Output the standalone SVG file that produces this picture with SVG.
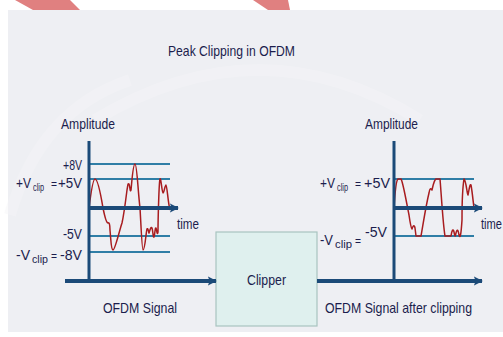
<svg xmlns="http://www.w3.org/2000/svg" width="503" height="337" viewBox="0 0 503 337">
<defs>
<style>
text{font-family:"Liberation Sans",Arial,sans-serif;fill:#1b1d4d;font-size:15px}
.sm{font-size:13px}
.sub{font-size:10px}
.axis{stroke:#1b4a78;stroke-width:3;fill:none}
.flow{stroke:#1b4a78;stroke-width:4;fill:none}
.lvl{stroke:#2f7ea6;stroke-width:2;fill:none}
.wave{stroke:#a81c1f;stroke-width:1.5;fill:none;stroke-linejoin:round}
</style>
<marker id="ah" viewBox="0 0 10 10" refX="9" refY="5" markerUnits="userSpaceOnUse" markerWidth="9" markerHeight="11" orient="auto">
<path d="M0,0 L10,5 L0,10 L2,5 z" fill="#1b4a78"/>
</marker>
</defs>
<rect x="0" y="0" width="503" height="337" fill="#ffffff"/>
<rect x="8" y="10" width="495" height="322" fill="#eeeff3"/>
<g id="swoosh" fill="none" stroke="#f5f5f8" stroke-width="12" opacity="0.45">
<path d="M95,120 Q260,20 420,120"/>
<path d="M10,215 Q40,110 130,80"/>
</g>
<polygon points="15,0 70,0 80,10 33,10" fill="#e08080"/>
<polygon points="253,0 288,0 290,10 268,10" fill="#e08080"/>
<text id="title" x="168" y="56" textLength="127" lengthAdjust="spacingAndGlyphs">Peak Clipping in OFDM</text>

<g id="input-chart">
<text x="61" y="129" font-size="14" textLength="54" lengthAdjust="spacingAndGlyphs">Amplitude</text>
<line class="lvl" x1="89" y1="164" x2="170" y2="164"/>
<line class="lvl" x1="89" y1="179" x2="170" y2="179"/>
<line class="lvl" x1="89" y1="236" x2="170" y2="236"/>
<line class="lvl" x1="89" y1="252" x2="170" y2="252"/>
<path class="wave" d="M89,208 C91,192 93,179 95,179 C98,179 101,196 103,208 C105,218 107,223 108,223 C109,222 110,224 110,230 C111,240 111,250 113,250 C115,250 119,232 122,223 C124,214 126,198 127,190 C128,184 128,183 129,184 C130,186 130,193 131,190 C132,180 133,164 135,164 C137,164 138,192 140,208 C141,225 142,250 143,250 C145,250 146,232 147,229 C148,227 149,234 149,233 C150,230 151,226 152,228 C153,231 153,238 154,237 C155,234 155,227 156,228 C157,231 157,236 158,232 C158,220 159,182 160,179 C161,177 162,193 163,193 C164,193 165,185 166,185 C167,185 168,203 170,210"/>
<line class="axis" x1="89" y1="141" x2="89" y2="281"/>
<line class="flow" x1="89" y1="208" x2="178" y2="208" marker-end="url(#ah)"/>
<text x="177" y="229" font-size="14" textLength="22" lengthAdjust="spacingAndGlyphs">time</text>
<text x="63" y="170" textLength="19" lengthAdjust="spacingAndGlyphs">+8V</text>
<text x="16" y="188" textLength="15" lengthAdjust="spacingAndGlyphs">+V</text>
<text x="33" y="191" class="sub" textLength="11" lengthAdjust="spacingAndGlyphs">clip</text>
<text x="51" y="188" class="sm" textLength="6" lengthAdjust="spacingAndGlyphs">=</text>
<text x="58" y="188" textLength="24" lengthAdjust="spacingAndGlyphs">+5V</text>
<text x="63" y="239" textLength="19" lengthAdjust="spacingAndGlyphs">-5V</text>
<text x="16" y="260" textLength="14" lengthAdjust="spacingAndGlyphs">-V</text>
<text x="32" y="263" class="sub" textLength="16" lengthAdjust="spacingAndGlyphs">clip</text>
<text x="51" y="260" class="sm" textLength="6" lengthAdjust="spacingAndGlyphs">=</text>
<text x="60" y="260" textLength="22" lengthAdjust="spacingAndGlyphs">-8V</text>
</g>

<g id="clipper">
<rect x="216" y="232" width="101" height="94" fill="#dff0ee" stroke="#a9c4c0" stroke-width="1.2"/>
<text x="247" y="285" textLength="39" lengthAdjust="spacingAndGlyphs">Clipper</text>
</g>

<g id="output-chart">
<text x="365" y="129" font-size="14" textLength="53" lengthAdjust="spacingAndGlyphs">Amplitude</text>
<line class="lvl" x1="394" y1="179" x2="474" y2="179"/>
<line class="lvl" x1="394" y1="236" x2="474" y2="236"/>
<path class="wave" d="M394,208 C395,192 396,180 398,179 L401,179 C403,182 406,200 409,215 C410,222 411,228 412,229 C413,226 414,224 415,228 L416,236 L421,236 C423,225 426,205 429,193 C430,187 431,189 432,190 C433,186 434,180 436,179 L440,179 C441,190 443,225 445,236 L451,236 C452,230 453,228 454,232 C455,237 455,237 456,233 C457,229 458,229 459,235 C460,239 461,236 462,220 C462,200 463,185 464,179 C466,180 467,194 468,195 C469,190 470,183 471,185 C472,190 473,200 474,208"/>
<line class="axis" x1="394" y1="141" x2="394" y2="281"/>
<line class="flow" x1="394" y1="208" x2="482" y2="208" marker-end="url(#ah)"/>
<text x="481" y="229" font-size="14" textLength="21" lengthAdjust="spacingAndGlyphs">time</text>
<text x="320" y="188" textLength="15" lengthAdjust="spacingAndGlyphs">+V</text>
<text x="337" y="191" class="sub" textLength="11" lengthAdjust="spacingAndGlyphs">clip</text>
<text x="355" y="188" class="sm" textLength="6" lengthAdjust="spacingAndGlyphs">=</text>
<text x="364" y="188" textLength="26" lengthAdjust="spacingAndGlyphs">+5V</text>
<text x="320" y="245" textLength="13" lengthAdjust="spacingAndGlyphs">-V</text>
<text x="335" y="248" class="sub" textLength="17" lengthAdjust="spacingAndGlyphs">clip</text>
<text x="355" y="245" class="sm" textLength="6" lengthAdjust="spacingAndGlyphs">=</text>
<text x="365" y="237" textLength="22" lengthAdjust="spacingAndGlyphs">-5V</text>
</g>

<g id="connectors">
<line class="flow" x1="65" y1="281" x2="216" y2="281" marker-end="url(#ah)"/>
<line class="flow" x1="317" y1="281" x2="482" y2="281" marker-end="url(#ah)"/>
</g>
<text x="103" y="313" textLength="74" lengthAdjust="spacingAndGlyphs">OFDM Signal</text>
<text x="325" y="313" textLength="147" lengthAdjust="spacingAndGlyphs">OFDM Signal after clipping</text>
</svg>
